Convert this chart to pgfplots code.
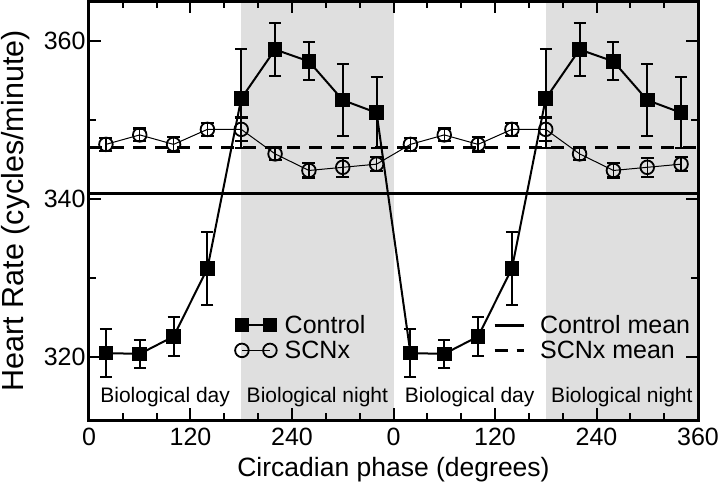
\documentclass[border=0pt]{standalone}
\usepackage{fontspec}
\setmainfont{Liberation Sans}
\usepackage{pgfplots}
\usepackage{pgfplotstable}
\pgfplotsset{compat=1.18}
\usetikzlibrary{calc}

\pgfplotstableread{
x y e
20 320.5 3.0
60 320.4 1.8
100 322.6 2.5
140 331.2 4.6
180 352.7 6.3
220 358.9 3.4
260 357.4 2.4
300 352.5 4.6
340 350.9 4.5
380 320.5 3.0
420 320.4 1.8
460 322.6 2.5
500 331.2 4.6
540 352.7 6.3
580 358.9 3.4
620 357.4 2.4
660 352.5 4.6
700 350.9 4.5
}\ctrl

\pgfplotstableread{
x y e
20 346.9 0.8
60 348.1 0.8
100 346.9 0.9
140 348.8 0.8
180 348.8 1.5
220 345.7 0.8
260 343.6 0.9
300 344.0 1.2
340 344.4 0.9
380 346.9 0.8
420 348.1 0.8
460 346.9 0.9
500 348.8 0.8
540 348.8 1.5
580 345.7 0.8
620 343.6 0.9
660 344.0 1.2
700 344.4 0.9
}\scnx

\pgfplotsset{
  base/.style={
    width=609bp, height=419bp, scale only axis,
    xmin=0, xmax=720, ymin=312, ymax=365,
  },
}

\begin{document}
\begin{tikzpicture}
% background axis: shading, mean lines, second legend
\begin{axis}[base, hide axis,
  legend style={draw=none, fill=none, at={(axis cs:474,322.46)}, anchor=west,
    font=\fontsize{25bp}{30bp}\selectfont, row sep=6bp,
    nodes={inner sep=0pt},
    /tikz/every odd column/.append style={column sep=15bp}},
  legend cell align=left,
  legend image code/.code={\draw (0bp,0bp) -- (29bp,0bp);},
]
\addplot[fill=gray!25, draw=none, forget plot] coordinates {(180,312) (180,365) (360,365) (360,312)} -- cycle;
\addplot[fill=gray!25, draw=none, forget plot] coordinates {(540,312) (540,365) (720,365) (720,312)} -- cycle;
\addplot[line width=3bp] coordinates {(0,340.7) (720,340.7)};
\addlegendentry{Control mean}
\addplot[line width=2.5bp, dash pattern=on 13bp off 9bp] coordinates {(0,346.5) (720,346.5)};
\addlegendentry{SCNx mean}
\end{axis}

\begin{axis}[base,
  axis line style={line width=3bp},
  tick style={line width=2bp, black},
  tick align=inside,
  major tick length=12bp, minor tick length=7bp,
  xtick={0,120,240,360,480,600,720},
  xticklabels={0,120,240,0,120,240,360},
  minor x tick num=2,
  ytick={320,340,360},
  minor y tick num=1,
  /pgf/number format/assume math mode=true,
  tick label style={font=\fontsize{25bp}{30bp}\selectfont},
  xticklabel style={yshift=-4bp},
  xlabel={Circadian phase (degrees)},
  ylabel={Heart Rate (cycles/minute)},
  xlabel style={font=\fontsize{26.5bp}{32bp}\selectfont, at={(axis description cs:0.5,0)}, anchor=south, yshift=-62bp, inner sep=0pt},
  ylabel style={font=\fontsize{30.5bp}{36bp}\selectfont, at={(axis description cs:0,0.5)}, anchor=south, yshift=59bp, inner sep=0pt},
  legend style={draw=none, fill=none, at={(axis cs:169,322.46)}, anchor=west,
    font=\fontsize{25bp}{30bp}\selectfont, row sep=6bp,
    nodes={inner sep=0pt},
    /tikz/every odd column/.append style={column sep=8bp}},
  legend cell align=left,
  legend image code/.code={\draw plot coordinates {(0bp,0bp) (28bp,0bp)};},
]
\coordinate (bl) at (rel axis cs:0,0);
\coordinate (tr) at (rel axis cs:1,1);
\addplot[line width=2bp, mark=square*, mark size=6.8bp, mark options={solid, line width=1bp},
  error bars/.cd, y dir=both, y explicit,
  error bar style={line width=2bp},
  error mark options={rotate=90, mark size=6bp, line width=2bp}]
  table[x=x, y=y, y error=e] {\ctrl};
\addlegendentry{Control}
\addplot[line width=1bp, mark=o, mark size=6.8bp, mark options={solid, line width=1.8bp},
  error bars/.cd, y dir=both, y explicit,
  error bar style={line width=1.5bp},
  error mark options={rotate=90, mark size=6.5bp, line width=2.2bp}]
  table[x=x, y=y, y error=e] {\scnx};
\addlegendentry{SCNx}
\node[font=\fontsize{21bp}{25bp}\selectfont, anchor=base] at (axis cs:90,314.3) {Biological day};
\node[font=\fontsize{21bp}{25bp}\selectfont, anchor=base] at (axis cs:270,314.3) {Biological night};
\node[font=\fontsize{21bp}{25bp}\selectfont, anchor=base] at (axis cs:450,314.3) {Biological day};
\node[font=\fontsize{21bp}{25bp}\selectfont, anchor=base] at (axis cs:630,314.3) {Biological night};
\end{axis}
\pgfresetboundingbox
\useasboundingbox ($(bl)+(-89bp,-62bp)$) rectangle ($(tr)+(22bp,1.3bp)$);
\end{tikzpicture}
\end{document}
